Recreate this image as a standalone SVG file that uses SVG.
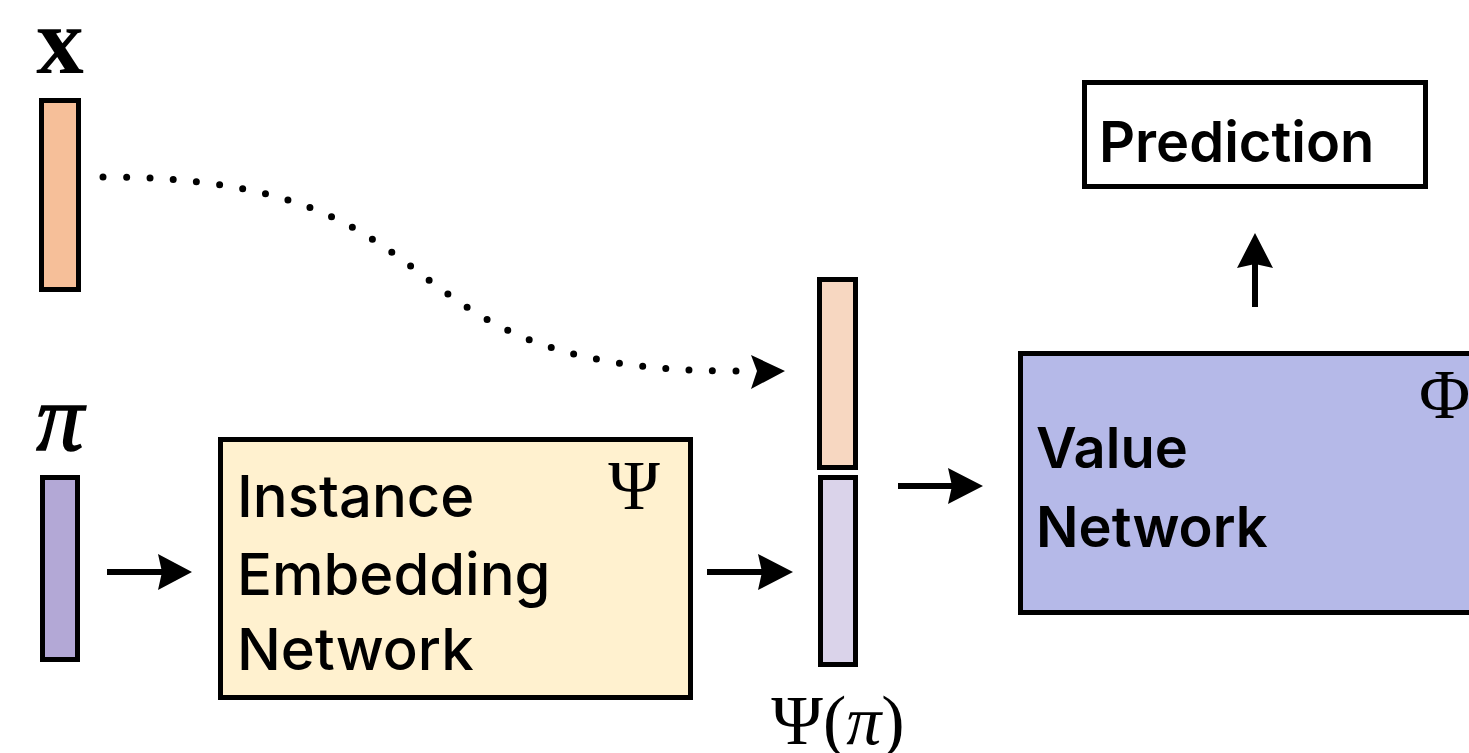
<svg xmlns="http://www.w3.org/2000/svg" width="1469" height="753" viewBox="0 0 1469 753">
<style>
.box{stroke:#000;stroke-width:5}
.lbl{font-family:Inter,"Liberation Sans",sans-serif;fill:#000}
.med{font-weight:500;font-size:58px}
.semi{font-weight:600;font-size:56px}
.math{font-family:"Liberation Serif","DejaVu Serif",serif;fill:#000}
.conn{stroke:#000;stroke-width:6;fill:none}
.head{fill:#000}
</style>
<rect width="1469" height="753" fill="#fff"/>
<g id="x-vector">
<text class="math" x="60" y="73" font-size="95" font-weight="bold" text-anchor="middle">x</text>
<rect class="box" x="41.5" y="100.5" width="37" height="189" fill="#f6bf99"/>
</g>
<g id="pi-vector">
<text class="math" x="60" y="450" font-size="95" font-style="italic" text-anchor="middle" stroke="#000" stroke-width="1.5">π</text>
<rect class="box" x="42.5" y="477.5" width="35" height="182" fill="#b3a8d6"/>
</g>
<g id="instance-embedding">
<rect class="box" x="220.5" y="439.5" width="470" height="258" fill="#fff1cf"/>
<text class="lbl med" x="237" y="517">Instance</text>
<text class="lbl med" x="237" y="595">Embedding</text>
<text class="lbl med" x="237" y="670">Network</text>
<text class="math" x="634" y="509" font-size="70" text-anchor="middle">Ψ</text>
</g>
<g id="concat-vector">
<rect class="box" x="819.5" y="279.5" width="36" height="188" fill="#f7d7c1"/>
<rect class="box" x="820.5" y="477.5" width="35" height="187" fill="#dad3ea"/>
<text class="math" x="838" y="744" font-size="70" text-anchor="middle">Ψ(<tspan font-style="italic">π</tspan>)</text>
</g>
<g id="value-network">
<rect class="box" x="1020.5" y="353.5" width="500" height="259" fill="#b5b9e8"/>
<text class="lbl semi" x="1036" y="468">Value</text>
<text class="lbl semi" x="1036" y="547">Network</text>
<text class="math" x="1419" y="418" font-size="70">Φ</text>
</g>
<g id="prediction">
<rect class="box" x="1084.5" y="82.5" width="341" height="104" fill="#fff"/>
<text class="lbl semi" x="1099" y="162" font-size="60">Prediction</text>
</g>
<g id="connectors">
<path d="M103,177 C483,177 360,371 736,371" stroke="#000" stroke-width="7" stroke-linecap="round" stroke-dasharray="0 10" pathLength="290" fill="none"/>
<polygon class="head" points="751,355 785,371 751,389 757,371"/>
<line class="conn" x1="107" y1="572" x2="165" y2="572"/>
<polygon class="head" points="158,554 192,572 158,590 162,572"/>
<line class="conn" x1="707" y1="572" x2="765" y2="572"/>
<polygon class="head" points="758,554 793,572 758,590 762,572"/>
<line class="conn" x1="898" y1="486" x2="955" y2="486"/>
<polygon class="head" points="948,468 983,486 948,504 952,486"/>
<line class="conn" x1="1255" y1="307" x2="1255" y2="262"/>
<polygon class="head" points="1237,268 1255,233 1273,268 1255,264"/>
</g>
</svg>
